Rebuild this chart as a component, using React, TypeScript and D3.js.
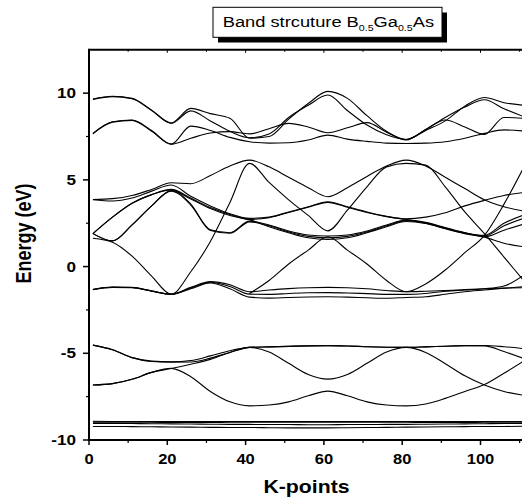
import React from 'react';
import * as d3 from 'd3';

const kPoints = [1, 6, 11, 16, 21, 26, 31, 36, 41, 46, 51, 56, 61, 66, 71, 76, 81, 86, 91, 96, 101, 106, 111];

// upper conduction bands (eV)
const bandU1 = [9.66, 9.82, 9.7, 9.02, 8.28, 9.12, 8.82, 8.55, 7.4, 7.5, 8.5, 9.4, 10.1, 9.7, 8.7, 7.8, 7.33, 7.85, 8.4, 9.25, 9.75, 9.45, 9.3];
const bandU2 = [9.64, 9.8, 9.68, 9.0, 8.26, 8.98, 8.4, 7.8, 7.43, 7.65, 8.6, 9.3, 9.89, 9.0, 8.16, 7.6, 7.33, 7.9, 8.6, 9.2, 9.62, 9.1, 8.65];
const bandU3 = [7.66, 8.33, 8.43, 7.8, 7.06, 7.4, 7.7, 7.78, 7.65, 7.95, 8.26, 8.05, 7.72, 8.0, 8.3, 7.75, 7.3, 7.9, 8.45, 8.05, 7.62, 8.6, 8.55];
const bandU4 = [7.68, 8.35, 8.45, 7.85, 7.06, 8.1, 7.85, 7.45, 7.2, 7.12, 7.14, 7.3, 7.58, 7.35, 7.22, 7.12, 7.1, 7.12, 7.2, 7.4, 7.68, 7.88, 7.82];

// lower conduction bands
const bandC1 = [3.87, 3.92, 4.1, 4.45, 4.83, 4.78, 5.25, 5.8, 6.14, 5.75, 5.15, 4.55, 4.03, 4.55, 5.2, 5.8, 6.14, 5.8, 5.15, 4.5, 3.85, 3.45, 3.2];
const bandC2 = [3.85, 3.78, 3.95, 4.35, 4.7, 4.05, 3.5, 3.05, 2.78, 2.85, 3.15, 3.45, 3.74, 3.45, 3.15, 2.9, 2.75, 2.85, 3.1, 3.5, 3.82, 4.1, 4.27];
const bandC3 = [1.9, 2.85, 3.65, 4.15, 4.45, 3.95, 3.4, 3.0, 2.72, 2.82, 3.12, 3.42, 3.7, 3.42, 3.12, 2.88, 2.72, 2.5, 2.2, 1.95, 1.72, 2.1, 2.45];
const bandC4 = [1.9, 2.85, 3.65, 4.15, 4.42, 3.6, 2.12, 1.95, 2.62, 2.4, 2.05, 1.82, 1.76, 1.82, 2.05, 2.4, 2.68, 2.55, 2.25, 1.95, 1.8, 2.5, 2.97];
const bandC5 = [1.9, 1.48, 2.4, 3.5, 4.35, 3.55, 2.08, 1.92, 2.58, 2.35, 2.0, 1.74, 1.66, 1.74, 2.0, 2.35, 2.64, 2.52, 2.22, 1.92, 1.76, 2.35, 2.78];
const bandC6 = [1.9, 1.48, 2.4, 3.5, 4.38, 3.9, 3.35, 2.95, 2.7, 2.3, 1.95, 1.66, 1.57, 1.66, 1.95, 2.3, 2.6, 2.48, 2.18, 1.9, 1.7, 1.35, 1.14];
const bandC7 = [1.63, 1.4, 0.6, -0.55, -1.59, -0.3, 1.45, 3.7, 5.95, 4.85, 3.85, 2.95, 2.06, 3.25, 4.6, 5.75, 5.95, 5.85, 4.6, 3.15, 1.9, 0.55, -0.8];
const bandC8 = [null, null, null, null, null, null, null, null, -1.55, -0.8, 0.15, 0.95, 1.72, 0.95, 0.15, -0.8, -1.45, -1.0, -0.2, 0.8, 1.8, 3.6, 5.7];

// top valence bands
const bandV1 = [-1.32, -1.18, -1.2, -1.4, -1.59, -1.2, -0.87, -1.05, -1.45, -1.35, -1.27, -1.22, -1.2, -1.22, -1.28, -1.38, -1.45, -1.42, -1.38, -1.33, -1.28, -1.24, -1.22];
const bandV2 = [-1.32, -1.19, -1.21, -1.41, -1.6, -1.24, -0.9, -1.15, -1.59, -1.6, -1.55, -1.51, -1.5, -1.52, -1.56, -1.6, -1.6, -1.55, -1.42, -1.35, -1.28, -1.12, -0.5];
const bandV3 = [-1.33, -1.2, -1.22, -1.42, -1.61, -1.28, -0.95, -1.28, -1.76, -1.82, -1.78, -1.75, -1.74, -1.76, -1.8, -1.83, -1.78, -1.74, -1.6, -1.45, -1.35, -1.25, -1.16];

// lower valence bands
const bandW1 = [-4.53, -4.8, -5.25, -5.45, -5.49, -5.42, -5.15, -4.85, -4.66, -4.63, -4.6, -4.57, -4.56, -4.58, -4.62, -4.65, -4.66, -4.63, -4.59, -4.56, -4.55, -4.62, -4.73];
const bandW2 = [-4.53, -4.8, -5.25, -5.47, -5.51, -5.5, -5.28, -4.95, -4.66, -4.63, -4.6, -4.57, -4.56, -4.58, -4.62, -4.65, -4.66, -4.63, -4.59, -4.56, -4.57, -4.9, -5.3];
const bandW3 = [-6.83, -6.75, -6.5, -6.1, -5.88, -5.63, -5.35, -4.95, -4.66, -4.93, -5.58, -6.22, -6.49, -6.22, -5.58, -4.93, -4.66, -4.95, -5.6, -6.3, -6.83, -7.2, -7.42];
const bandW4 = [-6.83, -6.75, -6.5, -6.1, -5.87, -6.35, -7.2, -7.8, -8.03, -7.98, -7.8, -7.45, -7.18, -7.45, -7.8, -7.98, -8.03, -7.92, -7.6, -7.2, -6.8, -6.15, -5.45];

// deep flat bands
const bandD1 = [-8.92, -8.93, -8.93, -8.94, -8.94, -8.94, -8.94, -8.93, -8.93, -8.93, -8.93, -8.93, -8.93, -8.93, -8.93, -8.93, -8.93, -8.94, -8.94, -8.94, -8.93, -8.93, -8.93];
const bandD2 = [-8.97, -8.97, -8.98, -8.98, -8.99, -8.99, -8.99, -8.98, -8.98, -8.98, -8.98, -8.98, -8.98, -8.98, -8.98, -8.98, -8.98, -8.99, -8.99, -8.99, -8.98, -8.98, -8.97];
const bandD3 = [-9.04, -9.04, -9.05, -9.06, -9.07, -9.08, -9.09, -9.1, -9.1, -9.11, -9.11, -9.12, -9.12, -9.11, -9.11, -9.1, -9.1, -9.09, -9.08, -9.07, -9.06, -9.05, -9.05];
const bandD4 = [-9.22, -9.22, -9.23, -9.24, -9.25, -9.26, -9.27, -9.28, -9.28, -9.29, -9.3, -9.3, -9.3, -9.29, -9.28, -9.27, -9.26, -9.25, -9.24, -9.23, -9.22, -9.22, -9.21];

const bands = [
  bandU1, bandU2, bandU3, bandU4,
  bandC1, bandC2, bandC3, bandC4, bandC5, bandC6, bandC7, bandC8,
  bandV1, bandV2, bandV3,
  bandW1, bandW2, bandW3, bandW4,
  bandD1, bandD2, bandD3, bandD4,
];

const xMajor = [0, 20, 40, 60, 80, 100];
const xMinor = [10, 30, 50, 70, 90, 110];
const yMajor = [-10, -5, 0, 5, 10];
const yMinor = [-7.5, -2.5, 2.5, 7.5];

const W = 522;
const H = 499;
const SX = 1.18; // the picture's text is a bit wide
const FONT = 'Arial, "Liberation Sans", Helvetica, sans-serif';

const x = d3.scaleLinear().domain([0, 112]).range([89, 89 + 112 * 3.915]);
const y = d3.scaleLinear().domain([-10, 12.5]).range([440, 49.8]);

const line = d3
  .line<number | null>()
  .defined((d) => d != null)
  .x((_, i) => x(kPoints[i]))
  .y((d) => y(d as number))
  .curve(d3.curveMonotoneX);

const Label = ({ px, py, anchor, size, bold, children }: any) => (
  <text
    transform={`translate(${px},${py}) scale(${SX},1)`}
    textAnchor={anchor}
    fontSize={size}
    fontWeight={bold ? 'bold' : 'normal'}
    fontFamily={FONT}
    fill="#000"
  >
    {children}
  </text>
);

export default function App() {
  const left = x(0);
  const bottom = y(-10);
  const top = y(12.5);

  return (
    <svg width={W} height={H} style={{ position: 'absolute', left: 0, top: 0, background: '#fff' }}>
      <rect width={W} height={H} fill="#fff" />

      {/* bands */}
      <g fill="none" stroke="#000" strokeWidth={1.1}>
        {bands.map((b, i) => (
          <path key={i} d={line(b) || ''} />
        ))}
      </g>

      {/* axes frame */}
      <line x1={left} x2={W} y1={top} y2={top} stroke="#000" strokeWidth={2} />
      <line x1={left} x2={W} y1={bottom} y2={bottom} stroke="#000" strokeWidth={2} />
      <line x1={left} x2={left} y1={top - 1} y2={bottom + 1} stroke="#000" strokeWidth={2} />

      {/* x ticks */}
      {xMajor.map((t) => (
        <g key={'xm' + t}>
          <line x1={x(t)} x2={x(t)} y1={bottom} y2={bottom + 5} stroke="#000" strokeWidth={1.5} />
          <line x1={x(t)} x2={x(t)} y1={top} y2={top + 3} stroke="#000" strokeWidth={1} />
          <Label px={x(t)} py={464} anchor="middle" size={14} bold>
            {t}
          </Label>
        </g>
      ))}
      {xMinor.map((t) => (
        <g key={'xn' + t}>
          <line x1={x(t)} x2={x(t)} y1={bottom} y2={bottom + 3} stroke="#000" strokeWidth={1.2} />
          <line x1={x(t)} x2={x(t)} y1={top} y2={top + 2} stroke="#000" strokeWidth={1} />
        </g>
      ))}

      {/* y ticks */}
      {yMajor.map((t) => (
        <g key={'ym' + t}>
          <line x1={left - 6} x2={left} y1={y(t)} y2={y(t)} stroke="#000" strokeWidth={1.5} />
          <Label px={76} py={y(t) + 5} anchor="end" size={14.5} bold>
            {t}
          </Label>
        </g>
      ))}
      {yMinor.map((t) => (
        <line key={'yn' + t} x1={left - 3} x2={left} y1={y(t)} y2={y(t)} stroke="#000" strokeWidth={1.2} />
      ))}

      {/* axis titles */}
      <Label px={306.5} py={492.5} anchor="middle" size={18} bold>
        K-points
      </Label>
      <text
        transform={`translate(30.5,233.5) scale(${SX},1) rotate(-90)`}
        textAnchor="middle"
        fontSize={18}
        fontWeight="bold"
        fontFamily={FONT}
      >
        Energy (eV)
      </text>

      {/* title box with shadow */}
      <rect x={218} y={12.5} width={229} height={30} fill="#000" />
      <rect x={213} y={7.3} width={229} height={30} fill="#fff" stroke="#000" strokeWidth={1} />
      <text transform={`translate(222.7,26.8) scale(${SX},1)`} fontSize={15.5} fontFamily={FONT} fill="#000">
        Band strcuture B
        <tspan fontSize={9} dy={4}>0.5</tspan>
        <tspan fontSize={15.5} dy={-4}>Ga</tspan>
        <tspan fontSize={9} dy={4}>0.5</tspan>
        <tspan fontSize={15.5} dy={-4}>As</tspan>
      </text>
    </svg>
  );
}
